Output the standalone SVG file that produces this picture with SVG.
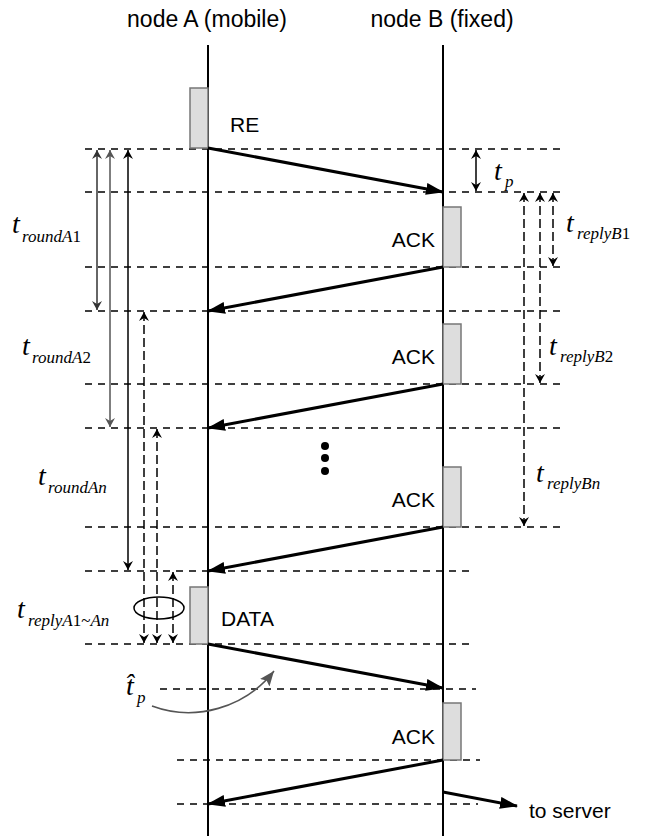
<svg xmlns="http://www.w3.org/2000/svg" width="650" height="839" viewBox="0 0 650 839">
<style>
.hdr{font-family:"Liberation Sans",Arial,sans-serif;font-size:23px;fill:#000}
.lbl{font-family:"Liberation Sans",Arial,sans-serif;font-size:21px;fill:#000}
.t{font-family:"Liberation Serif","Times New Roman",serif;font-style:italic;font-size:28px;fill:#000}
.sub{font-family:"Liberation Serif","Times New Roman",serif;font-style:italic;font-size:17px;fill:#000}
.n{font-style:normal}
.life{stroke:#000;stroke-width:2;fill:none}
.dash{stroke:#000;stroke-width:1.7;stroke-dasharray:7,6;fill:none}
.msg{stroke:#000;stroke-width:3;fill:none;marker-end:url(#mh)}
.box{fill:#ddd;stroke:#777;stroke-width:1.5}
.tm{stroke-width:1.5;fill:none}
.tmd{stroke-width:1.5;fill:none;stroke-dasharray:9,4}
</style>
<defs>
<marker id="mh" markerUnits="userSpaceOnUse" markerWidth="18" markerHeight="12" refX="17" refY="6" orient="auto">
<path d="M0,0 L18,6 L0,12 z" fill="#000"/>
</marker>
<marker id="ta" markerUnits="userSpaceOnUse" markerWidth="10" markerHeight="10" refX="9" refY="5" orient="auto-start-reverse">
<path d="M0,0 L9,5 L0,10 L3,5 z" fill="#000"/>
</marker>
<marker id="ta4" markerUnits="userSpaceOnUse" markerWidth="10" markerHeight="10" refX="9" refY="5" orient="auto-start-reverse">
<path d="M0,0 L9,5 L0,10 L3,5 z" fill="#333"/>
</marker>
<marker id="ta6" markerUnits="userSpaceOnUse" markerWidth="10" markerHeight="10" refX="9" refY="5" orient="auto-start-reverse">
<path d="M0,0 L9,5 L0,10 L3,5 z" fill="#555"/>
</marker>
<marker id="ga" markerUnits="userSpaceOnUse" markerWidth="16" markerHeight="12" refX="15" refY="6" orient="auto">
<path d="M0,0 L15,6 L0,12 L3,6 z" fill="#555"/>
</marker>
</defs>

<g id="nodeA">
<text class="hdr" x="207" y="27" text-anchor="middle">node A (mobile)</text>
<line class="life" x1="208" y1="45" x2="208" y2="836"/>
</g>
<g id="nodeB">
<text class="hdr" x="442" y="27" text-anchor="middle">node B (fixed)</text>
<line class="life" x1="443" y1="45" x2="443" y2="836"/>
</g>

<g id="guides">
<line class="dash" x1="85" y1="149" x2="565" y2="149"/>
<line class="dash" x1="85" y1="192" x2="565" y2="192"/>
<line class="dash" x1="85" y1="267" x2="565" y2="267"/>
<line class="dash" x1="85" y1="311" x2="565" y2="311"/>
<line class="dash" x1="85" y1="384" x2="565" y2="384"/>
<line class="dash" x1="85" y1="428" x2="565" y2="428"/>
<line class="dash" x1="85" y1="527" x2="565" y2="527"/>
<line class="dash" x1="85" y1="571" x2="473" y2="571"/>
<line class="dash" x1="85" y1="644" x2="473" y2="644"/>
<line class="dash" x1="160" y1="689" x2="476" y2="689"/>
<line class="dash" x1="177" y1="760" x2="480" y2="760"/>
<line class="dash" x1="177" y1="804" x2="478" y2="804"/>
</g>

<g id="re">
<rect class="box" x="190" y="88" width="18" height="60"/>
<text class="lbl" x="230" y="132">RE</text>
</g>
<g id="ack1">
<rect class="box" x="443" y="207" width="18" height="60"/>
<text class="lbl" x="435" y="247" text-anchor="end">ACK</text>
</g>
<g id="ack2">
<rect class="box" x="443" y="324" width="18" height="60"/>
<text class="lbl" x="435" y="364" text-anchor="end">ACK</text>
</g>
<g id="dots">
<circle cx="325" cy="446" r="4" fill="#000"/>
<circle cx="325" cy="458" r="4" fill="#000"/>
<circle cx="325" cy="471" r="4" fill="#000"/>
</g>
<g id="ackn">
<rect class="box" x="443" y="467" width="18" height="60"/>
<text class="lbl" x="435" y="507" text-anchor="end">ACK</text>
</g>
<g id="data">
<rect class="box" x="190" y="587" width="18" height="57"/>
<text class="lbl" x="221" y="626">DATA</text>
</g>
<g id="ackf">
<rect class="box" x="443" y="703" width="18" height="57"/>
<text class="lbl" x="435" y="744" text-anchor="end">ACK</text>
</g>
<g id="server">
<text class="lbl" x="529" y="818">to server</text>
</g>

<g id="connectors">
<line class="msg" x1="208" y1="148" x2="443" y2="192"/>
<line class="msg" x1="443" y1="267" x2="208" y2="311"/>
<line class="msg" x1="443" y1="384" x2="208" y2="428"/>
<line class="msg" x1="443" y1="527" x2="208" y2="571"/>
<line class="msg" x1="208" y1="644" x2="443" y2="688"/>
<line class="msg" x1="443" y1="760" x2="208" y2="804"/>
<line class="msg" x1="443" y1="792" x2="517" y2="806"/>
<path d="M152,706 C195,722 245,708 274,671" stroke="#555" stroke-width="1.6" fill="none" marker-end="url(#ga)"/>
</g>

<g id="timing">
<line class="tm" stroke="#333" x1="97" y1="150" x2="97" y2="310" marker-start="url(#ta4)" marker-end="url(#ta4)"/>
<line class="tm" stroke="#555" x1="110" y1="150" x2="110" y2="427" marker-start="url(#ta6)" marker-end="url(#ta6)"/>
<line class="tm" stroke="#000" x1="128" y1="150" x2="128" y2="570" marker-start="url(#ta)" marker-end="url(#ta)"/>
<line class="tmd" stroke="#000" x1="144" y1="312" x2="144" y2="643" marker-start="url(#ta)" marker-end="url(#ta)"/>
<line class="tmd" stroke="#000" x1="157" y1="429" x2="157" y2="643" marker-start="url(#ta)" marker-end="url(#ta)"/>
<line class="tmd" stroke="#000" x1="173" y1="572" x2="173" y2="643" marker-start="url(#ta)" marker-end="url(#ta)"/>
<ellipse cx="159" cy="608" rx="25" ry="11" fill="none" stroke="#000" stroke-width="1.5"/>
<line class="tm" stroke="#000" x1="476" y1="150" x2="476" y2="191" marker-start="url(#ta)" marker-end="url(#ta)"/>
<line class="tmd" stroke="#000" x1="524" y1="193" x2="524" y2="526" marker-start="url(#ta)" marker-end="url(#ta)"/>
<line class="tmd" stroke="#000" x1="540" y1="193" x2="540" y2="383" marker-start="url(#ta)" marker-end="url(#ta)"/>
<line class="tmd" stroke="#000" x1="553" y1="193" x2="553" y2="266" marker-start="url(#ta)" marker-end="url(#ta)"/>
</g>

<g id="labels">
<text class="t" x="12" y="233">t</text><text class="sub" x="22" y="242">roundA<tspan class="n">1</tspan></text>
<text class="t" x="22" y="355">t</text><text class="sub" x="32" y="363">roundA<tspan class="n">2</tspan></text>
<text class="t" x="38" y="485">t</text><text class="sub" x="48" y="493">roundAn</text>
<text class="t" x="17" y="618">t</text><text class="sub" x="28" y="626">replyA<tspan class="n">1~</tspan>An</text>
<text class="t" x="126" y="695">t&#x302;</text><text class="sub" x="137" y="703">p</text>
<text class="t" x="494" y="180">t</text><text class="sub" x="505" y="187">p</text>
<text class="t" x="566" y="232">t</text><text class="sub" x="577" y="239">replyB<tspan class="n">1</tspan></text>
<text class="t" x="549" y="355">t</text><text class="sub" x="560" y="362">replyB<tspan class="n">2</tspan></text>
<text class="t" x="536" y="482">t</text><text class="sub" x="547" y="489">replyBn</text>
</g>
</svg>
